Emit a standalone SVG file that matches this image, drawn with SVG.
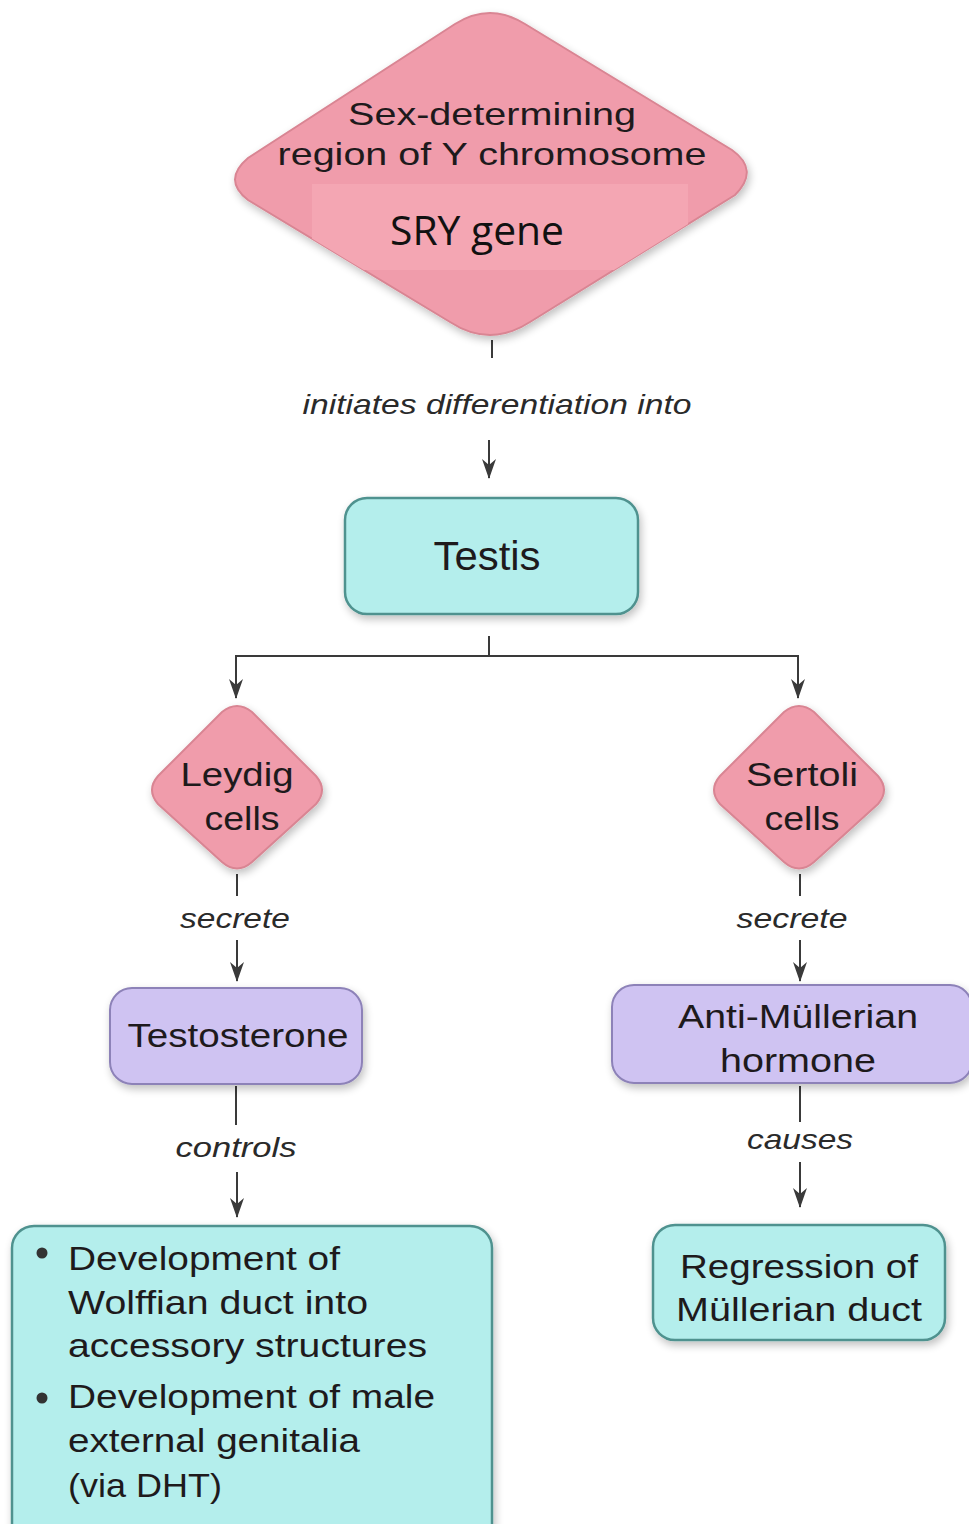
<svg xmlns="http://www.w3.org/2000/svg" width="969" height="1524" viewBox="0 0 969 1524">
<style>
.lbl{font-family:"Liberation Sans",Arial,sans-serif;fill:#1e1a1c;}
.it{font-family:"Liberation Sans",Arial,sans-serif;font-style:italic;fill:#2a2a2a;font-size:28px;}
.pink{fill:#f09cab;stroke:#d98593;stroke-width:2;}
.cyan{fill:#b4eeec;stroke:#4f928f;stroke-width:2.5;}
.lav{fill:#cfc3f2;stroke:#8d82b8;stroke-width:2;}
.conn{stroke:#3a3a3a;stroke-width:2;fill:none;}
</style>
<defs>
<marker id="ah" markerWidth="20" markerHeight="14" refX="19" refY="7" orient="auto" markerUnits="userSpaceOnUse" viewBox="0 0 20 14">
<path d="M0,0 L20,7 L0,14 L6,7 Z" fill="#3a3a3a"/>
</marker>
<filter id="sh" x="-10%" y="-10%" width="130%" height="130%">
<feGaussianBlur in="SourceAlpha" stdDeviation="4"/>
<feOffset dx="2" dy="4"/>
<feComponentTransfer><feFuncA type="linear" slope="0.25"/></feComponentTransfer>
<feMerge><feMergeNode/><feMergeNode in="SourceGraphic"/></feMerge>
</filter>
<clipPath id="dclip">
<path d="M455,24 Q490,2 525,24 L732,150 Q760,170 735,195 L530,322 Q490,348 450,322 L248,200 Q222,180 248,158 Z"/>
</clipPath>
</defs>
<rect width="969" height="1524" fill="#ffffff"/>

<g id="connectors">
<line class="conn" x1="492" y1="340" x2="492" y2="358"/>
<line class="conn" x1="489" y1="440" x2="489" y2="478" marker-end="url(#ah)"/>
<line class="conn" x1="489" y1="636" x2="489" y2="656"/>
<polyline class="conn" points="236,680 236,656 798,656 798,680"/>
<line class="conn" x1="236" y1="660" x2="236" y2="698" marker-end="url(#ah)"/>
<line class="conn" x1="798" y1="660" x2="798" y2="698" marker-end="url(#ah)"/>
<line class="conn" x1="237" y1="874" x2="237" y2="896"/>
<line class="conn" x1="237" y1="940" x2="237" y2="981" marker-end="url(#ah)"/>
<line class="conn" x1="800" y1="874" x2="800" y2="896"/>
<line class="conn" x1="800" y1="940" x2="800" y2="981" marker-end="url(#ah)"/>
<line class="conn" x1="236" y1="1086" x2="236" y2="1125"/>
<line class="conn" x1="237" y1="1172" x2="237" y2="1217" marker-end="url(#ah)"/>
<line class="conn" x1="800" y1="1086" x2="800" y2="1122"/>
<line class="conn" x1="800" y1="1162" x2="800" y2="1207" marker-end="url(#ah)"/>
<text class="it" x="497" y="414" text-anchor="middle" textLength="389" lengthAdjust="spacingAndGlyphs">initiates differentiation into</text>
<text class="it" x="235" y="928" text-anchor="middle" textLength="110" lengthAdjust="spacingAndGlyphs">secrete</text>
<text class="it" x="792" y="928" text-anchor="middle" textLength="111" lengthAdjust="spacingAndGlyphs">secrete</text>
<text class="it" x="236" y="1157" text-anchor="middle" textLength="121" lengthAdjust="spacingAndGlyphs">controls</text>
<text class="it" x="800" y="1149" text-anchor="middle" textLength="106" lengthAdjust="spacingAndGlyphs">causes</text>
</g>

<g id="sry">
<path class="pink" filter="url(#sh)" d="M455,24 Q490,2 525,24 L732,150 Q760,170 735,195 L530,322 Q490,348 450,322 L248,200 Q222,180 248,158 Z"/>
<rect x="312" y="184" width="376" height="86" fill="#f4a6b3" clip-path="url(#dclip)"/>
<text class="lbl" x="492" y="125" text-anchor="middle" font-size="32" textLength="288" lengthAdjust="spacingAndGlyphs">Sex-determining</text>
<text class="lbl" x="492" y="165" text-anchor="middle" font-size="32" textLength="429" lengthAdjust="spacingAndGlyphs">region of Y chromosome</text>
<text x="477" y="245" text-anchor="middle" font-size="40" font-family="'Open Sans','Liberation Sans',sans-serif" fill="#111" textLength="174" lengthAdjust="spacingAndGlyphs">SRY gene</text>
</g>

<g id="testis">
<rect class="cyan" filter="url(#sh)" x="345" y="498" width="293" height="116" rx="22"/>
<text class="lbl" x="487" y="570" text-anchor="middle" font-size="40" textLength="107" lengthAdjust="spacingAndGlyphs" fill="#111">Testis</text>
</g>

<g id="leydig">
<path class="pink" filter="url(#sh)" d="M222,712 Q237,700 252,712 L316,776 Q328,790 316,804 L252,862 Q237,875 222,862 L158,804 Q146,790 158,776 Z"/>
<text class="lbl" x="237" y="786" text-anchor="middle" font-size="33" textLength="113" lengthAdjust="spacingAndGlyphs">Leydig</text>
<text class="lbl" x="242" y="830" text-anchor="middle" font-size="33" textLength="75" lengthAdjust="spacingAndGlyphs">cells</text>
</g>

<g id="sertoli">
<path class="pink" filter="url(#sh)" d="M784,712 Q799,700 814,712 L878,776 Q890,790 878,804 L814,862 Q799,875 784,862 L720,804 Q708,790 720,776 Z"/>
<text class="lbl" x="802" y="786" text-anchor="middle" font-size="33" textLength="112" lengthAdjust="spacingAndGlyphs">Sertoli</text>
<text class="lbl" x="802" y="830" text-anchor="middle" font-size="33" textLength="75" lengthAdjust="spacingAndGlyphs">cells</text>
</g>

<g id="testosterone">
<rect class="lav" filter="url(#sh)" x="110" y="988" width="252" height="96" rx="22"/>
<text class="lbl" x="238" y="1047" text-anchor="middle" font-size="33" textLength="221" lengthAdjust="spacingAndGlyphs">Testosterone</text>
</g>

<g id="amh">
<rect class="lav" filter="url(#sh)" x="612" y="985" width="360" height="98" rx="22"/>
<text class="lbl" x="798" y="1028" text-anchor="middle" font-size="33" textLength="240" lengthAdjust="spacingAndGlyphs">Anti-Müllerian</text>
<text class="lbl" x="798" y="1072" text-anchor="middle" font-size="33" textLength="156" lengthAdjust="spacingAndGlyphs">hormone</text>
</g>

<g id="development">
<rect class="cyan" filter="url(#sh)" x="12" y="1226" width="480" height="320" rx="22"/>
<circle cx="42" cy="1253" r="5.5" fill="#333"/>
<circle cx="42" cy="1398" r="5.5" fill="#333"/>
<text class="lbl" x="68" y="1270" font-size="34" textLength="272" lengthAdjust="spacingAndGlyphs">Development of</text>
<text class="lbl" x="68" y="1314" font-size="34" textLength="300" lengthAdjust="spacingAndGlyphs">Wolffian duct into</text>
<text class="lbl" x="68" y="1357" font-size="34" textLength="359" lengthAdjust="spacingAndGlyphs">accessory structures</text>
<text class="lbl" x="68" y="1408" font-size="34" textLength="367" lengthAdjust="spacingAndGlyphs">Development of male</text>
<text class="lbl" x="68" y="1452" font-size="34" textLength="292" lengthAdjust="spacingAndGlyphs">external genitalia</text>
<text class="lbl" x="68" y="1497" font-size="34" textLength="154" lengthAdjust="spacingAndGlyphs">(via DHT)</text>
</g>

<g id="regression">
<rect class="cyan" filter="url(#sh)" x="653" y="1225" width="292" height="115" rx="22"/>
<text class="lbl" x="799" y="1278" text-anchor="middle" font-size="34" textLength="238" lengthAdjust="spacingAndGlyphs">Regression of</text>
<text class="lbl" x="799" y="1321" text-anchor="middle" font-size="34" textLength="246" lengthAdjust="spacingAndGlyphs">Müllerian duct</text>
</g>
</svg>
